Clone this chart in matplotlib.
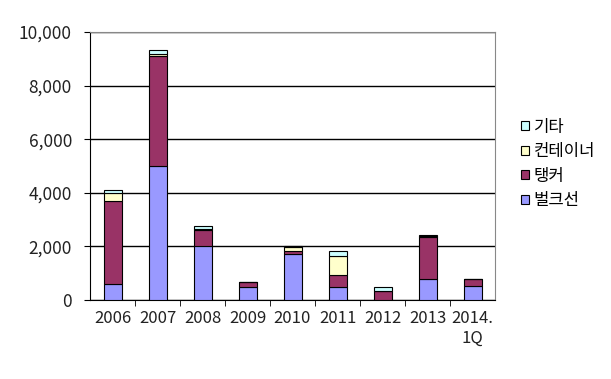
import numpy as np
import matplotlib.pyplot as plt
from matplotlib.patches import Patch
from matplotlib.ticker import FuncFormatter

plt.rcParams['font.family'] = ['Noto Sans CJK KR', 'DejaVu Sans']

years = ['2006', '2007', '2008', '2009', '2010', '2011', '2012', '2013', '2014.\n1Q']
bulk = [580, 5000, 2000, 500, 1700, 470, 0, 770, 540]
tanker = [3100, 4120, 630, 170, 120, 480, 350, 1580, 240]
container = [310, 50, 20, 0, 170, 700, 0, 40, 0]
other = [130, 150, 120, 20, 30, 190, 120, 40, 0]

series = [('벌크선', bulk, '#9999ff'), ('탱커', tanker, '#993366'),
          ('컨테이너', container, '#ffffcc'), ('기타', other, '#ccffff')]

fig = plt.figure(figsize=(6.11, 3.79), dpi=100)
ax = fig.add_axes([90 / 611, 1 - 300 / 379, 405 / 611, 268 / 379])

x = np.arange(len(years))
bottom = np.zeros(len(years))
for name, vals, color in series:
    ax.bar(x, vals, 0.4, bottom=bottom, color=color, edgecolor='black', linewidth=0.8, zorder=3)
    bottom += np.array(vals)

ax.set_xlim(-0.5, len(years) - 0.5)
ax.set_ylim(0, 10000)
ax.set_yticks(np.arange(0, 10001, 2000))
ax.yaxis.set_major_formatter(FuncFormatter(lambda v, p: f'{int(v):,}'))
ax.grid(axis='y', color='black', linewidth=1, zorder=1)
ax.set_xticks(x)
ax.set_xticklabels(years, fontsize=12, linespacing=1.25)
ax.set_xticks(x[:-1] + 0.5, minor=True)
ax.tick_params(axis='x', which='major', length=0, pad=7)
ax.tick_params(axis='x', which='minor', length=4, direction='out')
ax.tick_params(axis='y', labelsize=12.5, length=4, direction='out', pad=9)
for lab in ax.get_xticklabels() + ax.get_yticklabels():
    lab.set_color('#222222')
ax.spines['top'].set_color('#888888')
ax.spines['right'].set_color('#888888')

handles = [Patch(facecolor=c, edgecolor='black', linewidth=0.8, label=n) for n, v, c in reversed(series)]
fig.legend(handles=handles, loc='center left', bbox_to_anchor=(508 / 611, 1 - 164 / 379),
           frameon=False, fontsize=12, handlelength=0.45, handleheight=0.45,
           handletextpad=0.3, labelspacing=0.45, borderpad=0.3)

fig.savefig('out.png', dpi=100)
